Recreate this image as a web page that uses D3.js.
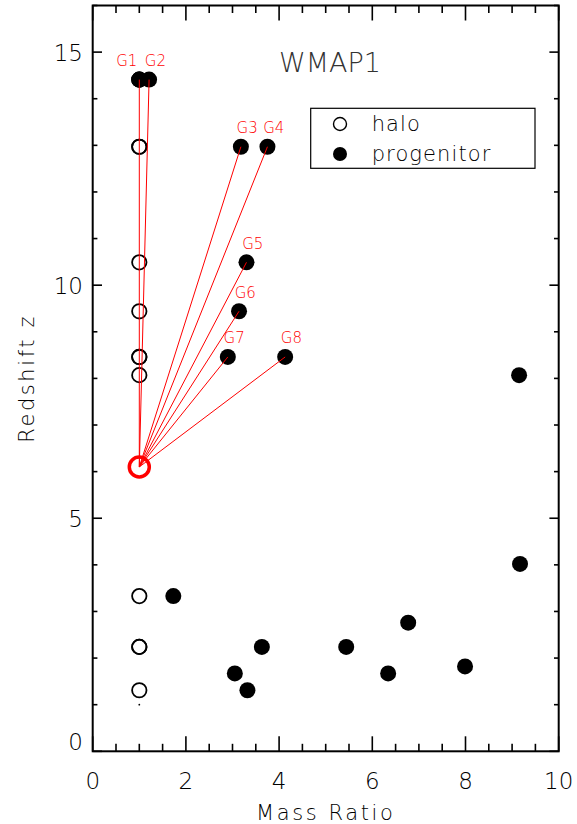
<!DOCTYPE html>
<html>
<head>
<meta charset="utf-8">
<script src="https://cdn.jsdelivr.net/npm/d3@7/dist/d3.min.js"></script>
<style>
  html, body { margin: 0; padding: 0; background: #fff; }
  svg text { font-family: "DejaVu Sans", sans-serif; font-weight: 200; }
</style>
</head>
<body>
<div id="chart"></div>
<script>
// Halos sitting at mass ratio 1, one per redshift output
const haloMass = [1, 1, 1, 1, 1, 1, 1, 1, 1, 1, 1, 1, 1];
const haloZ    = [14.41, 14.41, 12.97, 12.97, 10.49, 9.44, 8.46, 8.46, 8.07, 3.33, 2.24, 2.24, 1.31];

// Target halo that the labelled progenitors are linked to
const targetMass = 1.0;
const targetZ = 6.1;

// Labelled progenitors
const progNames = ["G1", "G2", "G3", "G4", "G5", "G6", "G7", "G8"];
const progMass  = [1.0, 1.21, 3.18, 3.75, 3.30, 3.14, 2.90, 4.13];
const progZ     = [14.41, 14.41, 12.97, 12.97, 10.49, 9.44, 8.46, 8.46];

// Remaining progenitors
const otherMass = [9.15, 9.17, 1.73, 3.63, 3.05, 3.32, 5.44, 6.34, 6.77, 7.99];
const otherZ    = [8.07, 4.02, 3.33, 2.24, 1.67, 1.31, 2.24, 1.67, 2.76, 1.82];

// A lone faint dot at the bottom of the halo column
const dotMass = [1.0];
const dotZ = [1.0];

// Axis ticks
const xTicks = [0, 2, 4, 6, 8, 10];
const yTicks = [0, 5, 10, 15];

const W = 577, H = 824;
const mLeft = 92.7, mRight = 558.7, mTop = 5.5, mBottom = 751.3;

const svg = d3.select("#chart").append("svg")
  .attr("width", W).attr("height", H);

const x = d3.scaleLinear().domain([0, 10]).range([mLeft, mRight]);
const y = d3.scaleLinear().domain([0, 16]).range([mBottom, mTop]);

// Ticks: IDL-style, x tick length relative to plot height, y to plot width
const xMajorLen = 15, xMinorLen = 7.5, yMajorLen = 9.3, yMinorLen = 4.7;
const axes = svg.append("g").attr("stroke", "#000").attr("stroke-width", 1.6);

d3.range(0, 10.001, 0.5).forEach(v => {
  const major = Math.abs(v / 2 - Math.round(v / 2)) < 1e-6;
  const len = major ? xMajorLen : xMinorLen;
  axes.append("line").attr("x1", x(v)).attr("x2", x(v)).attr("y1", mBottom).attr("y2", mBottom - len);
  axes.append("line").attr("x1", x(v)).attr("x2", x(v)).attr("y1", mTop).attr("y2", mTop + len);
});
d3.range(0, 16.001, 1).forEach(v => {
  const major = v % 5 === 0;
  const len = major ? yMajorLen : yMinorLen;
  axes.append("line").attr("y1", y(v)).attr("y2", y(v)).attr("x1", mLeft).attr("x2", mLeft + len);
  axes.append("line").attr("y1", y(v)).attr("y2", y(v)).attr("x1", mRight).attr("x2", mRight - len);
});

// Frame
svg.append("rect")
  .attr("x", mLeft).attr("y", mTop)
  .attr("width", mRight - mLeft).attr("height", mBottom - mTop)
  .attr("fill", "none").attr("stroke", "#000").attr("stroke-width", 2);

// Tick labels
svg.append("g").selectAll("text").data(xTicks).join("text")
  .attr("x", d => x(d)).attr("y", 789)
  .attr("text-anchor", "middle")
  .attr("font-size", 23).attr("fill", "#000")
  .text(d => d);

svg.append("g").selectAll("text").data(yTicks).join("text")
  .attr("x", 83).attr("y", d => d === 0 ? y(d) - 1 : y(d) + 8.5)
  .attr("text-anchor", "end")
  .attr("font-size", 23).attr("fill", "#000")
  .text(d => d);

// Axis titles
svg.append("text")
  .attr("x", (mLeft + mRight) / 2).attr("y", 820)
  .attr("text-anchor", "middle")
  .attr("font-size", 21).attr("letter-spacing", 2.6).attr("fill", "#000")
  .text("Mass Ratio");

svg.append("text")
  .attr("transform", `translate(34, ${(mTop + mBottom) / 2}) rotate(-90)`)
  .attr("text-anchor", "middle")
  .attr("font-size", 21).attr("letter-spacing", 2.6).attr("fill", "#000")
  .text("Redshift z");

// Panel title
svg.append("text")
  .attr("x", 330).attr("y", 72)
  .attr("text-anchor", "middle")
  .attr("font-size", 27).attr("fill", "#333")
  .text("WMAP1");

const plot = svg.append("g");

// Halos (open circles)
plot.append("g").selectAll("circle").data(haloZ).join("circle")
  .attr("cx", (d, i) => x(haloMass[i])).attr("cy", d => y(d))
  .attr("r", 7.2).attr("fill", "none").attr("stroke", "#000").attr("stroke-width", 1.8);

plot.append("g").selectAll("circle").data(dotZ).join("circle")
  .attr("cx", (d, i) => x(dotMass[i])).attr("cy", d => y(d))
  .attr("r", 0.9).attr("fill", "#000");

// Progenitors (filled circles)
plot.append("g").selectAll("circle").data(otherZ).join("circle")
  .attr("cx", (d, i) => x(otherMass[i])).attr("cy", d => y(d))
  .attr("r", 8).attr("fill", "#000");

plot.append("g").selectAll("circle").data(progZ).join("circle")
  .attr("cx", (d, i) => x(progMass[i])).attr("cy", d => y(d))
  .attr("r", 8).attr("fill", "#000");

// Red links from the target halo to each labelled progenitor
plot.append("g").selectAll("line").data(progNames).join("line")
  .attr("x1", x(targetMass)).attr("y1", y(targetZ))
  .attr("x2", (d, i) => x(progMass[i])).attr("y2", (d, i) => y(progZ[i]))
  .attr("stroke", "#ff0000").attr("stroke-width", 1);

// Target halo ring
plot.append("circle")
  .attr("cx", x(targetMass)).attr("cy", y(targetZ))
  .attr("r", 10).attr("fill", "none").attr("stroke", "#ff0000").attr("stroke-width", 3.5);

// Progenitor labels; G1 sits to the left so it clears G2
plot.append("g").selectAll("text").data(progNames).join("text")
  .attr("x", (d, i) => d === "G1" ? x(progMass[i]) - 2 : x(progMass[i]) - 4.3)
  .attr("y", (d, i) => y(progZ[i]) - 13.5)
  .attr("text-anchor", d => d === "G1" ? "end" : "start")
  .attr("font-size", 15).attr("fill", "#ff0000")
  .text(d => d);

// Legend
const lg = svg.append("g");
lg.append("rect")
  .attr("x", 310.7).attr("y", 108.3).attr("width", 224.3).attr("height", 60)
  .attr("fill", "#fff").attr("stroke", "#000").attr("stroke-width", 1.2);
lg.append("circle").attr("cx", 340).attr("cy", 124).attr("r", 6.5)
  .attr("fill", "none").attr("stroke", "#000").attr("stroke-width", 1.4);
lg.append("circle").attr("cx", 340).attr("cy", 154).attr("r", 7).attr("fill", "#000");
lg.append("text").attr("x", 371.7).attr("y", 131)
  .attr("font-size", 21).attr("letter-spacing", 1.1).attr("fill", "#000").text("halo");
lg.append("text").attr("x", 371.7).attr("y", 161)
  .attr("font-size", 21).attr("letter-spacing", 1.1).attr("fill", "#000").text("progenitor");
</script>
</body>
</html>
